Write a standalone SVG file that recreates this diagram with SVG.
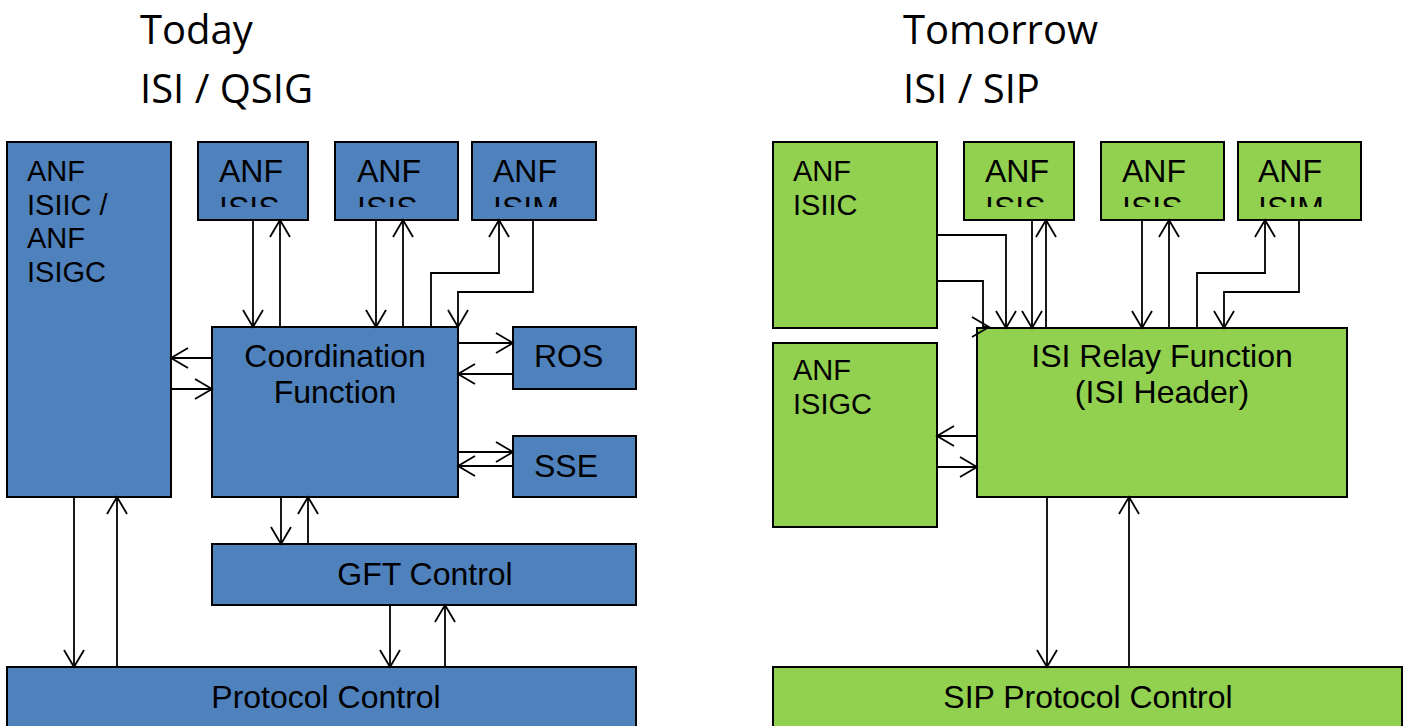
<svg xmlns="http://www.w3.org/2000/svg" width="1409" height="726" viewBox="0 0 1409 726">
<style>
.b{fill:#4F81BD;stroke:#000;stroke-width:2}
.g{fill:#92D050;stroke:#000;stroke-width:2}
.t{font-family:"Liberation Sans",Arial,sans-serif;font-size:32px;fill:#000}
.s{font-family:"Liberation Sans",Arial,sans-serif;font-size:29px;fill:#000}
.h{font-family:"Open Sans","Noto Sans",sans-serif;font-size:40px;fill:#000}
.c{fill:none;stroke:#000;stroke-width:1.8;marker-end:url(#arr)}
</style>
<defs>
<marker id="arr" markerUnits="userSpaceOnUse" markerWidth="22" markerHeight="24" refX="18" refY="11" orient="auto" viewBox="0 0 22 24">
<path d="M1,1 L18,11 L1,21" fill="none" stroke="#000" stroke-width="1.8"/>
</marker>
<clipPath id="clipTop"><rect x="0" y="142" width="1409" height="65"/></clipPath>
</defs>

<g id="titles">
<text class="h" x="140" y="44">Today</text>
<text class="h" x="140" y="103">ISI / QSIG</text>
<text class="h" x="903" y="44">Tomorrow</text>
<text class="h" x="903" y="103">ISI / SIP</text>
</g>

<g id="left-anf-isiic-isigc">
<rect class="b" x="7" y="142" width="164" height="355"/>
<text class="s" x="27" y="181">ANF</text>
<text class="s" x="27" y="215">ISIIC /</text>
<text class="s" x="27" y="248">ANF</text>
<text class="s" x="27" y="282">ISIGC</text>
</g>
<g id="left-anf-isis-1">
<rect class="b" x="198" y="142" width="110" height="78"/>
<text class="t" x="219" y="182">ANF</text>
<text class="t" x="219" y="219" clip-path="url(#clipTop)">ISIS</text>
</g>
<g id="left-anf-isis-2">
<rect class="b" x="335" y="142" width="123" height="78"/>
<text class="t" x="357" y="182">ANF</text>
<text class="t" x="357" y="219" clip-path="url(#clipTop)">ISIS</text>
</g>
<g id="left-anf-isim">
<rect class="b" x="472" y="142" width="124" height="78"/>
<text class="t" x="493" y="182">ANF</text>
<text class="t" x="493" y="219" clip-path="url(#clipTop)">ISIM</text>
</g>
<g id="coordination">
<rect class="b" x="212" y="327" width="246" height="170"/>
<text class="t" x="335" y="367" text-anchor="middle">Coordination</text>
<text class="t" x="335" y="403" text-anchor="middle">Function</text>
</g>
<g id="ros">
<rect class="b" x="513" y="327" width="123" height="62"/>
<text class="t" x="534" y="367">ROS</text>
</g>
<g id="sse">
<rect class="b" x="513" y="436" width="123" height="61"/>
<text class="t" x="534" y="477">SSE</text>
</g>
<g id="gft">
<rect class="b" x="212" y="544" width="424" height="61"/>
<text class="t" x="425" y="585" text-anchor="middle">GFT Control</text>
</g>
<g id="protocol">
<rect class="b" x="7" y="667" width="629" height="70"/>
<text class="t" x="326" y="708" text-anchor="middle">Protocol Control</text>
</g>

<g id="right-anf-isiic">
<rect class="g" x="773" y="142" width="164" height="186"/>
<text class="s" x="793" y="181">ANF</text>
<text class="s" x="793" y="215">ISIIC</text>
</g>
<g id="right-anf-isigc">
<rect class="g" x="773" y="343" width="164" height="184"/>
<text class="s" x="793" y="380">ANF</text>
<text class="s" x="793" y="414">ISIGC</text>
</g>
<g id="right-anf-isis-1">
<rect class="g" x="964" y="142" width="110" height="78"/>
<text class="t" x="985" y="182">ANF</text>
<text class="t" x="985" y="219" clip-path="url(#clipTop)">ISIS</text>
</g>
<g id="right-anf-isis-2">
<rect class="g" x="1101" y="142" width="123" height="78"/>
<text class="t" x="1122" y="182">ANF</text>
<text class="t" x="1122" y="219" clip-path="url(#clipTop)">ISIS</text>
</g>
<g id="right-anf-isim">
<rect class="g" x="1238" y="142" width="123" height="78"/>
<text class="t" x="1258" y="182">ANF</text>
<text class="t" x="1258" y="219" clip-path="url(#clipTop)">ISIM</text>
</g>
<g id="relay">
<rect class="g" x="977" y="328" width="370" height="169"/>
<text class="t" x="1162" y="367" text-anchor="middle">ISI Relay Function</text>
<text class="t" x="1162" y="403" text-anchor="middle">(ISI Header)</text>
</g>
<g id="sip-protocol">
<rect class="g" x="773" y="667" width="629" height="70"/>
<text class="t" x="1088" y="708" text-anchor="middle">SIP Protocol Control</text>
</g>

<g id="connectors">
<path class="c" d="M253,220 V327"/>
<path class="c" d="M280,327 V220"/>
<path class="c" d="M376,220 V327"/>
<path class="c" d="M403,327 V220"/>
<path class="c" d="M431,327 V273 H499 V220"/>
<path class="c" d="M533,220 V292 H458 V327"/>
<path class="c" d="M212,358 H171"/>
<path class="c" d="M171,389 H212"/>
<path class="c" d="M458,343 H513"/>
<path class="c" d="M513,374 H458"/>
<path class="c" d="M458,452 H513"/>
<path class="c" d="M513,466 H458"/>
<path class="c" d="M281,497 V544"/>
<path class="c" d="M308,544 V497"/>
<path class="c" d="M74,497 V667"/>
<path class="c" d="M117,667 V497"/>
<path class="c" d="M390,605 V667"/>
<path class="c" d="M445,667 V605"/>

<path class="c" d="M937,235 H1006 V328"/>
<path class="c" d="M937,281 H983 V327 H989"/>
<path class="c" d="M1032,220 V328"/>
<path class="c" d="M1046,328 V220"/>
<path class="c" d="M1142,220 V328"/>
<path class="c" d="M1169,328 V220"/>
<path class="c" d="M1197,328 V273 H1265 V220"/>
<path class="c" d="M1299,220 V292 H1224 V328"/>
<path class="c" d="M977,436 H937"/>
<path class="c" d="M937,467 H977"/>
<path class="c" d="M1047,497 V667"/>
<path class="c" d="M1129,667 V497"/>
</g>
</svg>
